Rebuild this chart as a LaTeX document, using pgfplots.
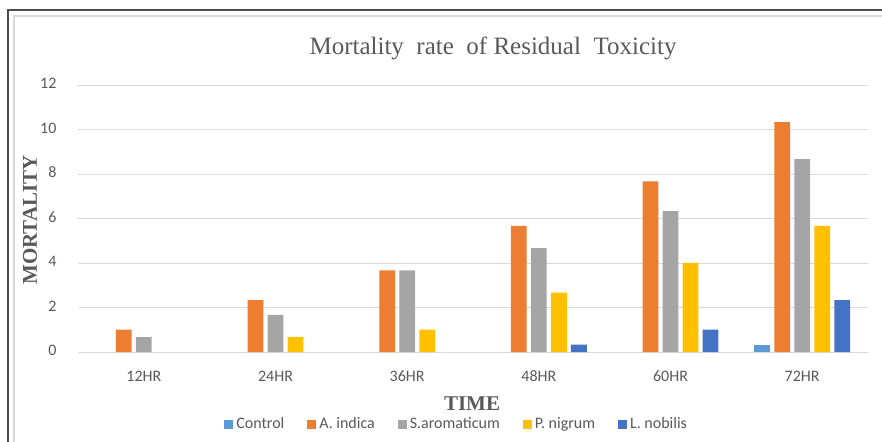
\documentclass[border=0pt]{standalone}
\usepackage{fontspec}
\setmainfont{Liberation Serif}
\newfontfamily\carlito{Carlito}
\usepackage{pgfplots}
\pgfplotsset{compat=1.18}
\definecolor{cControl}{HTML}{5B9BD5}
\definecolor{cA}{HTML}{ED7D31}
\definecolor{cS}{HTML}{A5A5A5}
\definecolor{cP}{HTML}{FFC000}
\definecolor{cL}{HTML}{4472C4}
\definecolor{txt}{HTML}{595959}
\definecolor{grid}{HTML}{D9D9D9}
\begin{document}
\begin{tikzpicture}[x=1pt,y=1pt]
\useasboundingbox (0,0) rectangle (882,441);
\draw[grid, line width=1.2pt] (14,-2) -- (14,425) -- (890,425);
\draw[black!70, line width=1.2pt] (8,-2) -- (8,431) -- (890,431);
\begin{axis}[
  at={(78pt,89pt)}, anchor=south west,
  scale only axis, width=790pt, height=267pt,
  ymin=0, ymax=12, ytick={0,2,...,12},
  xmin=-0.5, xmax=5.5,
  xtick={0,1,2,3,4,5},
  xticklabels={12HR,24HR,36HR,48HR,60HR,72HR},
  ybar, bar width=0.12,
  axis line style={draw=none},
  axis x line*=bottom,
  x axis line style={draw=grid, line width=0.8pt},
  ymajorgrids, grid style={draw=grid, line width=0.8pt},
  major tick length=0pt,
  tick label style={font=\carlito\fontsize{16}{19}\selectfont, text=txt},
  /pgf/number format/assume math mode=true,
  typeset ticklabels with strut,
  xticklabel style={yshift=-13pt},
  yticklabel style={xshift=-18pt},
  legend style={at={(0.48,-0.27)}, anchor=center, draw=none, legend columns=5,
    font=\carlito\fontsize{16}{19}\selectfont, text=txt,
    /tikz/every even column/.append style={column sep=20pt},
    nodes={inner xsep=3pt}},
  legend image code/.code={\fill[#1] (0pt,-4.5pt) rectangle (9pt,4.5pt);},
]
\addplot[fill=cControl, draw=none, bar shift=-0.304] coordinates {(5,0.33)};
\addplot[fill=cA, draw=none, bar shift=-0.152] coordinates {(0,1.0) (1,2.33) (2,3.67) (3,5.67) (4,7.67) (5,10.33)};
\addplot[fill=cS, draw=none, bar shift=0] coordinates {(0,0.67) (1,1.67) (2,3.67) (3,4.67) (4,6.33) (5,8.67)};
\addplot[fill=cP, draw=none, bar shift=0.152] coordinates {(1,0.67) (2,1.0) (3,2.67) (4,4.0) (5,5.67)};
\addplot[fill=cL, draw=none, bar shift=0.304] coordinates {(3,0.33) (4,1.0) (5,2.33)};
\legend{Control,A. indica,S.aromaticum,P. nigrum,L. nobilis}
\end{axis}
\node[text=txt, font=\fontsize{25}{28}\selectfont] at (493,441-48) {Mortality\ \ rate\ \ of Residual\ \ Toxicity};
\node[text=txt, font=\bfseries\fontsize{21}{24}\selectfont, rotate=90] at (30,441-220) {MORTALITY};
\node[text=txt, font=\bfseries\fontsize{21}{24}\selectfont] at (472,441-404) {TIME};
\end{tikzpicture}
\end{document}
